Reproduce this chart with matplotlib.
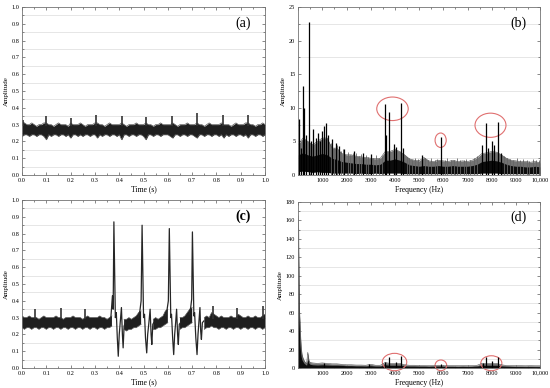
import numpy as np
from matplotlib import pyplot as plt
from matplotlib.patches import Ellipse
from matplotlib.ticker import MultipleLocator, FixedLocator, FixedFormatter

plt.rcParams['font.family'] = ['Liberation Serif', 'DejaVu Serif']

# ---------------- (a) time signal, normal ----------------
a_upper = [0.32, 0.31, 0.30, 0.30, 0.31, 0.30, 0.29, 0.30, 0.30, 0.31,
           0.31, 0.30, 0.30, 0.29, 0.30, 0.31, 0.30, 0.30, 0.30, 0.29,
           0.31, 0.30, 0.30, 0.30, 0.31, 0.30, 0.29, 0.30, 0.30, 0.30,
           0.31, 0.31, 0.30, 0.30, 0.29, 0.30, 0.31, 0.30, 0.30, 0.30,
           0.30, 0.31, 0.30, 0.29, 0.30, 0.30, 0.30, 0.31, 0.30, 0.30,
           0.30, 0.31, 0.30, 0.30, 0.29, 0.30, 0.30, 0.31, 0.30, 0.30,
           0.30, 0.30, 0.31, 0.30, 0.29, 0.30, 0.30, 0.30, 0.31, 0.30,
           0.30, 0.30, 0.31, 0.30, 0.30, 0.29, 0.30, 0.31, 0.30, 0.30,
           0.30, 0.30, 0.31, 0.30, 0.30, 0.30, 0.29, 0.30, 0.31, 0.30,
           0.30, 0.30, 0.31, 0.31, 0.30, 0.30, 0.29, 0.30, 0.30, 0.31, 0.30]
a_lower = [0.23, 0.24, 0.24, 0.23, 0.24, 0.24, 0.23, 0.24, 0.24, 0.23,
           0.21, 0.24, 0.23, 0.24, 0.24, 0.23, 0.24, 0.24, 0.23, 0.24,
           0.22, 0.24, 0.24, 0.23, 0.24, 0.23, 0.24, 0.24, 0.23, 0.24,
           0.24, 0.22, 0.24, 0.23, 0.24, 0.24, 0.23, 0.24, 0.24, 0.23,
           0.24, 0.21, 0.24, 0.24, 0.23, 0.24, 0.24, 0.23, 0.24, 0.24,
           0.23, 0.21, 0.24, 0.24, 0.23, 0.24, 0.24, 0.23, 0.24, 0.24,
           0.24, 0.23, 0.22, 0.24, 0.24, 0.23, 0.24, 0.24, 0.23, 0.24,
           0.24, 0.23, 0.22, 0.24, 0.24, 0.23, 0.24, 0.24, 0.23, 0.24,
           0.24, 0.23, 0.24, 0.22, 0.24, 0.23, 0.24, 0.24, 0.23, 0.24,
           0.24, 0.23, 0.24, 0.22, 0.24, 0.24, 0.23, 0.24, 0.24, 0.23, 0.24]
a_spike_t = [0.005, 0.097, 0.203, 0.305, 0.41, 0.512, 0.617, 0.72, 0.826, 0.93]
a_spike_top = [0.33, 0.35, 0.34, 0.36, 0.35, 0.345, 0.35, 0.37, 0.36, 0.36]

# ---------------- (c) time signal, fault ----------------
nan = np.nan
c_upper = [0.31, 0.30, 0.30, 0.31, 0.30, 0.30, 0.30, 0.29, 0.30, 0.31,
           0.30, 0.30, 0.30, 0.30, 0.31, 0.30, 0.30, 0.29, 0.30, 0.30,
           0.30, 0.31, 0.30, 0.30, 0.30, 0.29, 0.30, 0.31, 0.30, 0.30,
           0.30, 0.30, 0.31, 0.30, 0.30, 0.29, 0.30, 0.31, nan, nan,
           nan, nan, 0.29, 0.29, 0.30, 0.29, 0.30, 0.31, 0.33, 0.34,
           nan, nan, nan, nan, 0.29, 0.30, 0.29, 0.30, 0.31, 0.34,
           0.35, nan, nan, nan, nan, 0.30, 0.30, 0.31, 0.33, 0.35,
           0.36, nan, nan, nan, nan, 0.30, 0.31, 0.30, 0.33, 0.32,
           0.31, 0.30, 0.31, 0.30, 0.30, 0.30, 0.31, 0.30, 0.30, 0.32,
           0.31, 0.30, 0.30, 0.31, 0.30, 0.30, 0.31, 0.30, 0.30, 0.31, 0.32]
c_lower = [0.24, 0.23, 0.24, 0.24, 0.23, 0.24, 0.24, 0.23, 0.24, 0.24,
           0.23, 0.24, 0.24, 0.23, 0.24, 0.24, 0.23, 0.24, 0.24, 0.23,
           0.24, 0.24, 0.23, 0.24, 0.24, 0.23, 0.24, 0.24, 0.23, 0.24,
           0.24, 0.23, 0.24, 0.24, 0.23, 0.24, 0.24, 0.25, nan, nan,
           nan, nan, 0.23, 0.22, 0.23, 0.23, 0.24, 0.24, 0.25, 0.26,
           nan, nan, nan, nan, 0.23, 0.23, 0.24, 0.24, 0.25, 0.26,
           0.27, nan, nan, nan, nan, 0.23, 0.24, 0.24, 0.25, 0.26,
           0.27, nan, nan, nan, nan, 0.23, 0.24, 0.24, 0.25, 0.24,
           0.24, 0.23, 0.24, 0.24, 0.23, 0.24, 0.24, 0.23, 0.24, 0.24,
           0.23, 0.24, 0.24, 0.23, 0.24, 0.24, 0.23, 0.24, 0.24, 0.23, 0.24]
c_spike_t = [0.055, 0.16, 0.26, 0.785, 0.885, 0.99]
c_spike_top = [0.35, 0.36, 0.35, 0.37, 0.36, 0.37]
c_pulse_t = [
    [0.365, 0.372, 0.375, 0.378, 0.384, 0.388, 0.392, 0.396, 0.400, 0.404, 0.409, 0.413, 0.416, 0.420, 0.425],
    [0.478, 0.485, 0.490, 0.494, 0.500, 0.504, 0.508, 0.513, 0.517, 0.522, 0.527, 0.531, 0.534, 0.538, 0.542],
    [0.590, 0.597, 0.602, 0.606, 0.612, 0.615, 0.620, 0.624, 0.628, 0.632, 0.636, 0.640, 0.643, 0.647, 0.652],
    [0.688, 0.694, 0.698, 0.701, 0.707, 0.710, 0.715, 0.720, 0.724, 0.728, 0.732, 0.735, 0.738, 0.742, 0.748],
]
c_pulse_v = [
    [0.29, 0.43, 0.35, 0.87, 0.30, 0.33, 0.18, 0.07, 0.20, 0.27, 0.36, 0.20, 0.12, 0.25, 0.27],
    [0.30, 0.34, 0.40, 0.85, 0.30, 0.32, 0.18, 0.09, 0.20, 0.27, 0.35, 0.20, 0.14, 0.26, 0.27],
    [0.31, 0.35, 0.40, 0.83, 0.30, 0.32, 0.17, 0.08, 0.20, 0.27, 0.35, 0.20, 0.14, 0.26, 0.27],
    [0.32, 0.36, 0.41, 0.81, 0.31, 0.33, 0.18, 0.08, 0.20, 0.28, 0.36, 0.22, 0.17, 0.27, 0.28],
]

# ---------------- (b) spectrum, normal ----------------
b_upper = [4.5, 5.5, 5.0, 4.5, 5.0, 5.5, 5.5, 4.0, 4.0, 3.2,
           3.0, 3.0, 2.8, 2.7, 2.6, 2.5, 2.4, 2.5, 3.5, 3.5,
           3.8, 3.5, 3.0, 2.4, 2.2, 2.1, 2.6, 2.1, 2.0, 2.2,
           2.1, 2.0, 2.2, 2.0, 2.1, 2.0, 2.2, 2.6, 3.2, 3.3,
           3.5, 3.4, 3.0, 2.5, 2.2, 2.1, 2.0, 2.0, 1.9, 2.0, 1.8]
b_core = [3.0, 3.3, 3.0, 2.8, 3.0, 3.2, 3.0, 2.5, 2.3, 2.0,
          1.9, 1.8, 1.7, 1.7, 1.6, 1.6, 1.5, 1.6, 2.2, 2.2,
          2.4, 2.2, 1.9, 1.5, 1.4, 1.3, 1.4, 1.3, 1.3, 1.4,
          1.3, 1.3, 1.4, 1.3, 1.3, 1.3, 1.4, 1.6, 2.0, 2.1,
          2.2, 2.1, 1.9, 1.6, 1.4, 1.3, 1.3, 1.2, 1.2, 1.3, 1.2]
b_lower = [0.5, 0.6, 0.5, 0.4, 0.5, 0.4, 0.4, 0.3, 0.3, 0.3,
           0.3, 0.3, 0.2, 0.3, 0.2, 0.2, 0.3, 0.2, 0.3, 0.3,
           0.3, 0.3, 0.2, 0.2, 0.2, 0.2, 0.2, 0.2, 0.2, 0.2,
           0.2, 0.2, 0.2, 0.2, 0.2, 0.2, 0.2, 0.2, 0.3, 0.3,
           0.3, 0.3, 0.2, 0.2, 0.2, 0.2, 0.2, 0.2, 0.2, 0.2, 0.2]
b_peak_f = [20, 120, 190, 260, 330, 455, 520, 620, 720, 820, 900, 1000, 1080, 1150,
            1250, 1400, 1550, 1700, 1900, 2300, 2700, 3000, 3580, 3650, 3750, 3950,
            4050, 4250, 4350, 5100, 5900, 7600, 7750, 7850, 8000, 8100, 8250, 8400]
b_peak_h = [8.4, 4.0, 13.3, 10.0, 6.0, 22.7, 5.0, 6.9, 5.5, 6.2, 5.0, 6.5, 7.3, 7.8,
            6.0, 5.3, 4.7, 4.3, 3.8, 3.5, 3.3, 3.1, 10.6, 6.0, 9.3, 4.6,
            4.2, 10.7, 4.0, 3.0, 5.6, 4.4, 7.7, 4.0, 5.1, 4.5, 7.9, 3.2]
# small noise spikes along the floor of the spectrum
b_noise_f = [1350, 1480, 1620, 1780, 1850, 2050, 2150, 2250, 2400, 2500,
             2600, 2800, 2900, 3100, 3200, 3350, 3450, 4500, 4600, 4700,
             4850, 4950, 5250, 5350, 5500, 5650, 5750, 6050, 6150, 6300,
             6450, 6550, 6700, 6850, 6950, 7100, 7250, 7400, 8500, 8650,
             8750, 8900, 9050, 9150, 9300, 9450, 9550, 9700, 9850, 9950]
b_noise_h = [4.8, 4.0, 4.5, 3.6, 3.9, 3.4, 3.0, 3.3, 3.2, 2.8,
             3.1, 2.9, 2.7, 2.6, 2.9, 2.5, 2.8, 2.7, 2.5, 2.3,
             2.6, 2.4, 2.5, 2.2, 2.6, 2.3, 2.4, 2.2, 2.5, 2.3,
             2.2, 2.5, 2.3, 2.2, 2.4, 2.3, 2.5, 2.8, 2.8, 2.6,
             2.4, 2.3, 2.5, 2.2, 2.4, 2.3, 2.1, 2.4, 2.2, 2.3]
b_circle_x = [3900, 5890, 7950]
b_circle_y = [9.85, 5.17, 7.4]
b_circle_w = [1300, 460, 1280]
b_circle_h = [3.5, 2.15, 3.6]

# ---------------- (d) spectrum, fault ----------------
d_freq = [0, 20, 40, 60, 80, 100, 130, 160, 200, 250, 300, 350, 400, 450, 500, 600,
          800, 1000, 1200, 1400, 1600, 1800, 2000, 2200, 2400, 2600,
          2800, 3000, 3200, 3400, 3600, 3800, 4000, 4200, 4400, 4600,
          4800, 5000, 5200, 5400, 5600, 5800, 6000, 6200, 6400, 6600,
          6800, 7000, 7200, 7400, 7600, 7800, 8000, 8200, 8400, 8600,
          8800, 9000, 9200, 9400, 9600, 9800, 10000]
d_upper = [165, 150, 90, 60, 50, 35, 22, 15, 11, 8, 6, 4.5, 17, 8, 6, 5.5,
           5.0, 5.5, 5.0, 4.5, 4.5, 4.0, 3.5, 3.5, 3.2, 3.2,
           3.0, 4.0, 3.0, 3.0, 6.0, 5.0, 5.0, 5.0, 3.5, 3.0,
           3.0, 2.8, 2.8, 2.6, 2.8, 3.0, 2.7, 2.6, 2.6, 2.5,
           2.6, 2.5, 2.6, 3.0, 5.0, 5.0, 5.0, 5.0, 3.5, 2.8,
           2.6, 2.5, 2.5, 2.4, 2.5, 2.4, 2.4]
d_core = [160, 120, 55, 35, 25, 18, 12, 9, 7, 5, 4, 3, 10, 5, 4, 3.5,
          3.2, 3.5, 3.2, 3.0, 3.0, 2.8, 2.5, 2.5, 2.2, 2.2,
          2.0, 2.5, 2.0, 2.0, 3.5, 3.0, 3.0, 3.0, 2.2, 2.0,
          2.0, 1.8, 1.8, 1.7, 1.8, 2.0, 1.8, 1.7, 1.7, 1.6,
          1.7, 1.6, 1.7, 2.0, 3.0, 3.0, 3.0, 3.0, 2.2, 1.8,
          1.7, 1.6, 1.6, 1.5, 1.6, 1.5, 1.5]
d_peak_f = [1050, 2950, 3580, 3750, 4050, 4250, 5900, 7620, 7750, 8000, 8250]
d_peak_h = [5.5, 4.0, 7.0, 12.0, 6.0, 13.0, 4.0, 5.5, 12.0, 8.0, 12.0]
d_circle_x = [3985, 5900, 7985]
d_circle_y = [6.5, 2.9, 5.2]
d_circle_w = [1010, 480, 870]
d_circle_h = [18.8, 11.6, 16.2]

freq_ticks = [0, 1000, 2000, 3000, 4000, 5000, 6000, 7000, 8000, 9000, 10000]
freq_labels = ['', '1000', '2000', '3000', '4000', '5000', '6000', '7000', '8000', '9000', '10,000']


def style_axes(ax, ymax, ystep, yminor, xlabel, panel, bold=False):
    ax.set_ylim(0, ymax)
    ax.yaxis.set_major_locator(MultipleLocator(ystep))
    ax.yaxis.set_minor_locator(MultipleLocator(yminor))
    ax.grid(True, which='minor', axis='y', color='#dcdcdc', lw=0.5)
    ax.set_axisbelow(True)
    ax.tick_params(which='both', direction='in', top=True, right=True,
                   labelsize=4.5, pad=2, color='0.35', width=0.5)
    ax.tick_params(which='major', length=2.5)
    ax.tick_params(which='minor', length=1.3)
    for sp in ax.spines.values():
        sp.set_color('0.45')
        sp.set_linewidth(0.6)
    ax.set_ylabel('Amplitude', fontsize=5, labelpad=2)
    ax.set_xlabel(xlabel, fontsize=5.5, labelpad=2)
    ax.text(0.91, 0.905, panel, transform=ax.transAxes, fontsize=10,
            ha='center', va='center', fontweight='bold' if bold else 'normal')


def draw_time(ax, upper, lower, spike_t, spike_top):
    t = np.round(np.arange(0, 1.001, 0.01), 2)
    ax.fill_between(t, lower, upper, color='0.12', lw=0)
    ax.plot(t, upper, color='0.35', lw=0.5)
    ax.plot(t, lower, color='0.35', lw=0.5)
    ax.vlines(spike_t, 0.29, spike_top, color='0.2', lw=1.2)
    ax.set_xlim(0, 1)
    ax.xaxis.set_major_locator(MultipleLocator(0.1))
    ax.xaxis.set_minor_locator(MultipleLocator(0.05))


def draw_spec(ax, freq, upper, core, lower, peak_f, peak_h, cx, cy, cw, ch):
    ax.fill_between(freq, lower, upper, color='0.45', lw=0)
    ax.fill_between(freq, lower, core, color='0.05', lw=0)
    ax.plot(freq, upper, color='0.3', lw=0.4)
    ax.vlines(peak_f, 0, peak_h, color='black', lw=0.9)
    for x, y, w, h in zip(cx, cy, cw, ch):
        ax.add_patch(Ellipse((x, y), w, h, fill=False, ec='#e07070', lw=0.8, clip_on=False))
    ax.set_xlim(0, 10000)
    ax.xaxis.set_major_locator(FixedLocator(freq_ticks))
    ax.xaxis.set_major_formatter(FixedFormatter(freq_labels))
    ax.xaxis.set_minor_locator(MultipleLocator(500))


fig = plt.figure(figsize=(5.5, 3.88), dpi=100)
ax_a = fig.add_axes([0.040, 0.549, 0.442, 0.433])
ax_b = fig.add_axes([0.542, 0.549, 0.440, 0.433])
ax_c = fig.add_axes([0.040, 0.0515, 0.442, 0.433])
ax_d = fig.add_axes([0.542, 0.0515, 0.440, 0.428])

draw_time(ax_a, a_upper, a_lower, a_spike_t, a_spike_top)
style_axes(ax_a, 1.0, 0.1, 0.05, 'Time (s)', '(a)')

draw_time(ax_c, c_upper, c_lower, c_spike_t, c_spike_top)
for pt, pv in zip(c_pulse_t, c_pulse_v):
    ax_c.plot(pt, pv, color='0.15', lw=0.9)
style_axes(ax_c, 1.0, 0.1, 0.05, 'Time (s)', '(c)', bold=True)

b_freq = np.arange(0, 10001, 200)
ax_b.vlines(b_noise_f, 0, b_noise_h, color='0.4', lw=0.6)
draw_spec(ax_b, b_freq, b_upper, b_core, b_lower, b_peak_f, b_peak_h,
          b_circle_x, b_circle_y, b_circle_w, b_circle_h)
style_axes(ax_b, 25, 5, 2.5, 'Frequency (Hz)', '(b)')

draw_spec(ax_d, d_freq, d_upper, d_core, [0.3] * len(d_freq), d_peak_f, d_peak_h,
          d_circle_x, d_circle_y, d_circle_w, d_circle_h)
style_axes(ax_d, 180, 20, 10, 'Frequency (Hz)', '(d)')

fig.savefig('out.png', dpi=100)
